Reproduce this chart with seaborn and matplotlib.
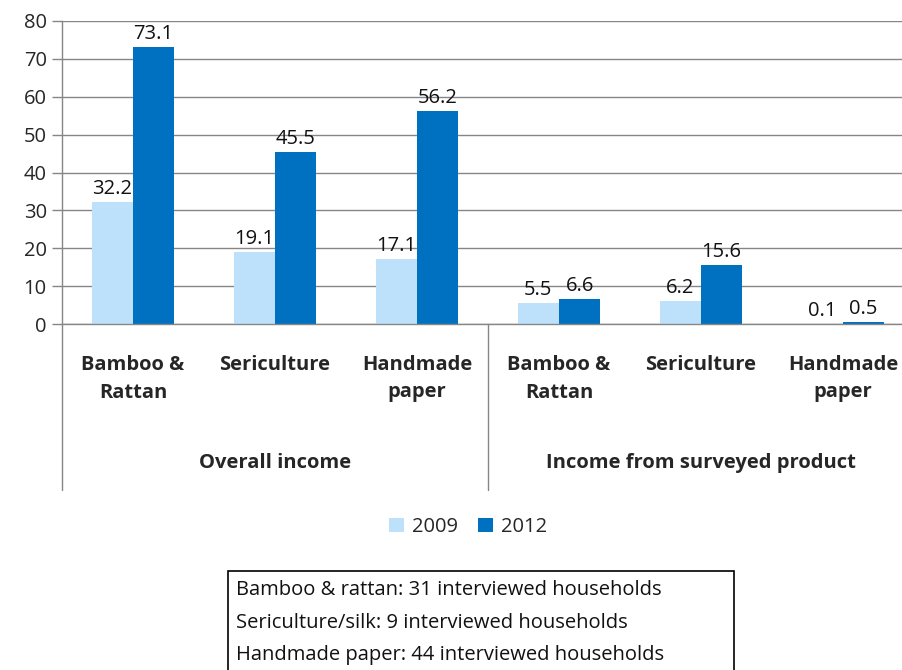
import matplotlib
matplotlib.use("Agg")
import matplotlib.pyplot as plt
import matplotlib.transforms as mtransforms
import seaborn as sns
import pandas as pd
from matplotlib.patches import Rectangle, Patch
from matplotlib.lines import Line2D

# Values
groups = ["Overall income", "Income from surveyed product"]
products = ["Bamboo &\nRattan", "Sericulture", "Handmade\npaper"]
years = ["2009", "2012"]
values_2009 = [32.2, 19.1, 17.1, 5.5, 6.2, 0.1]
values_2012 = [73.1, 45.5, 56.2, 6.6, 15.6, 0.5]
yticks = [0, 10, 20, 30, 40, 50, 60, 70, 80]
note_lines = [
    "Bamboo & rattan: 31 interviewed households",
    "Sericulture/silk: 9 interviewed households",
    "Handmade paper: 44 interviewed households",
]

colors = {"2009": "#BDE1FB", "2012": "#0070C0"}

slots = [f"{g}|{p}" for g in groups for p in products]
df = pd.DataFrame({
    "slot": slots * 2,
    "year": ["2009"] * 6 + ["2012"] * 6,
    "value": values_2009 + values_2012,
})

sns.set_theme(style="white")
plt.rcParams["font.family"] = ["Open Sans", "DejaVu Sans"]
FS = 14.5

W, H = 902, 670
fig = plt.figure(figsize=(W / 100, H / 100), dpi=100)
x0, x1 = 62, 914
y0, y1 = 324, 21
ax = fig.add_axes([x0 / W, 1 - y0 / H, (x1 - x0) / W, (y0 - y1) / H])

sns.barplot(data=df, x="slot", y="value", hue="year", order=slots,
            hue_order=years, palette=colors, width=0.58, ax=ax,
            saturation=1, legend=False, edgecolor="none")

ax.set_xlim(-0.5, 5.5)
ax.set_ylim(0, 80)
ax.set_yticks(yticks)
ax.set_yticklabels([str(t) for t in yticks], fontsize=FS)
ax.yaxis.grid(True, color="#868686", linewidth=1)
ax.set_axisbelow(True)
ax.set_xlabel("")
ax.set_ylabel("")
ax.set_xticks([])
for s in ["top", "right"]:
    ax.spines[s].set_visible(False)
for s in ["left", "bottom"]:
    ax.spines[s].set_color("#868686")
    ax.spines[s].set_linewidth(1)
ax.tick_params(axis="y", left=True, length=7, width=1, color="#868686", pad=4)

for cont in ax.containers:
    ax.bar_label(cont, labels=[f"{v:.1f}" for v in cont.datavalues],
                 padding=2, fontsize=FS, color="#111111")

below = mtransforms.blended_transform_factory(ax.transData, fig.transFigure)

# Category labels under the axis
for i, p in enumerate(products * 2):
    ax.text(i, 1 - 355 / H, p, ha="center", va="top", fontsize=FS,
            fontweight="bold", linespacing=1.5, transform=below, clip_on=False)
for j, g in enumerate(groups):
    ax.text(1 + 3 * j, 1 - 463 / H, g, ha="center", va="center", fontsize=FS,
            fontweight="bold", transform=below)

# Group separators below the axis
for xpx in (x0, 488):
    fig.add_artist(Line2D([xpx / W, xpx / W], [1 - y0 / H, 1 - 490 / H],
                          color="#868686", linewidth=1))

handles = [Patch(facecolor=colors[y], edgecolor="none", label=y) for y in years]
fig.legend(handles=handles, loc="center", bbox_to_anchor=(468 / W, 1 - 527 / H),
           ncol=2, frameon=False, fontsize=FS, handlelength=0.75, handleheight=0.75,
           handletextpad=0.4, columnspacing=1.0)

# Sample size note
fig.add_artist(Rectangle((228 / W, -0.02), (734 - 228) / W, (1 - 571 / H) + 0.02,
                         transform=fig.transFigure, fill=False,
                         edgecolor="black", linewidth=1.2))
for k, line in enumerate(note_lines):
    fig.text(236 / W, 1 - (590 + 32.5 * k) / H, line, ha="left", va="center",
             fontsize=FS, color="#111111")

fig.savefig("out.png", dpi=100)
